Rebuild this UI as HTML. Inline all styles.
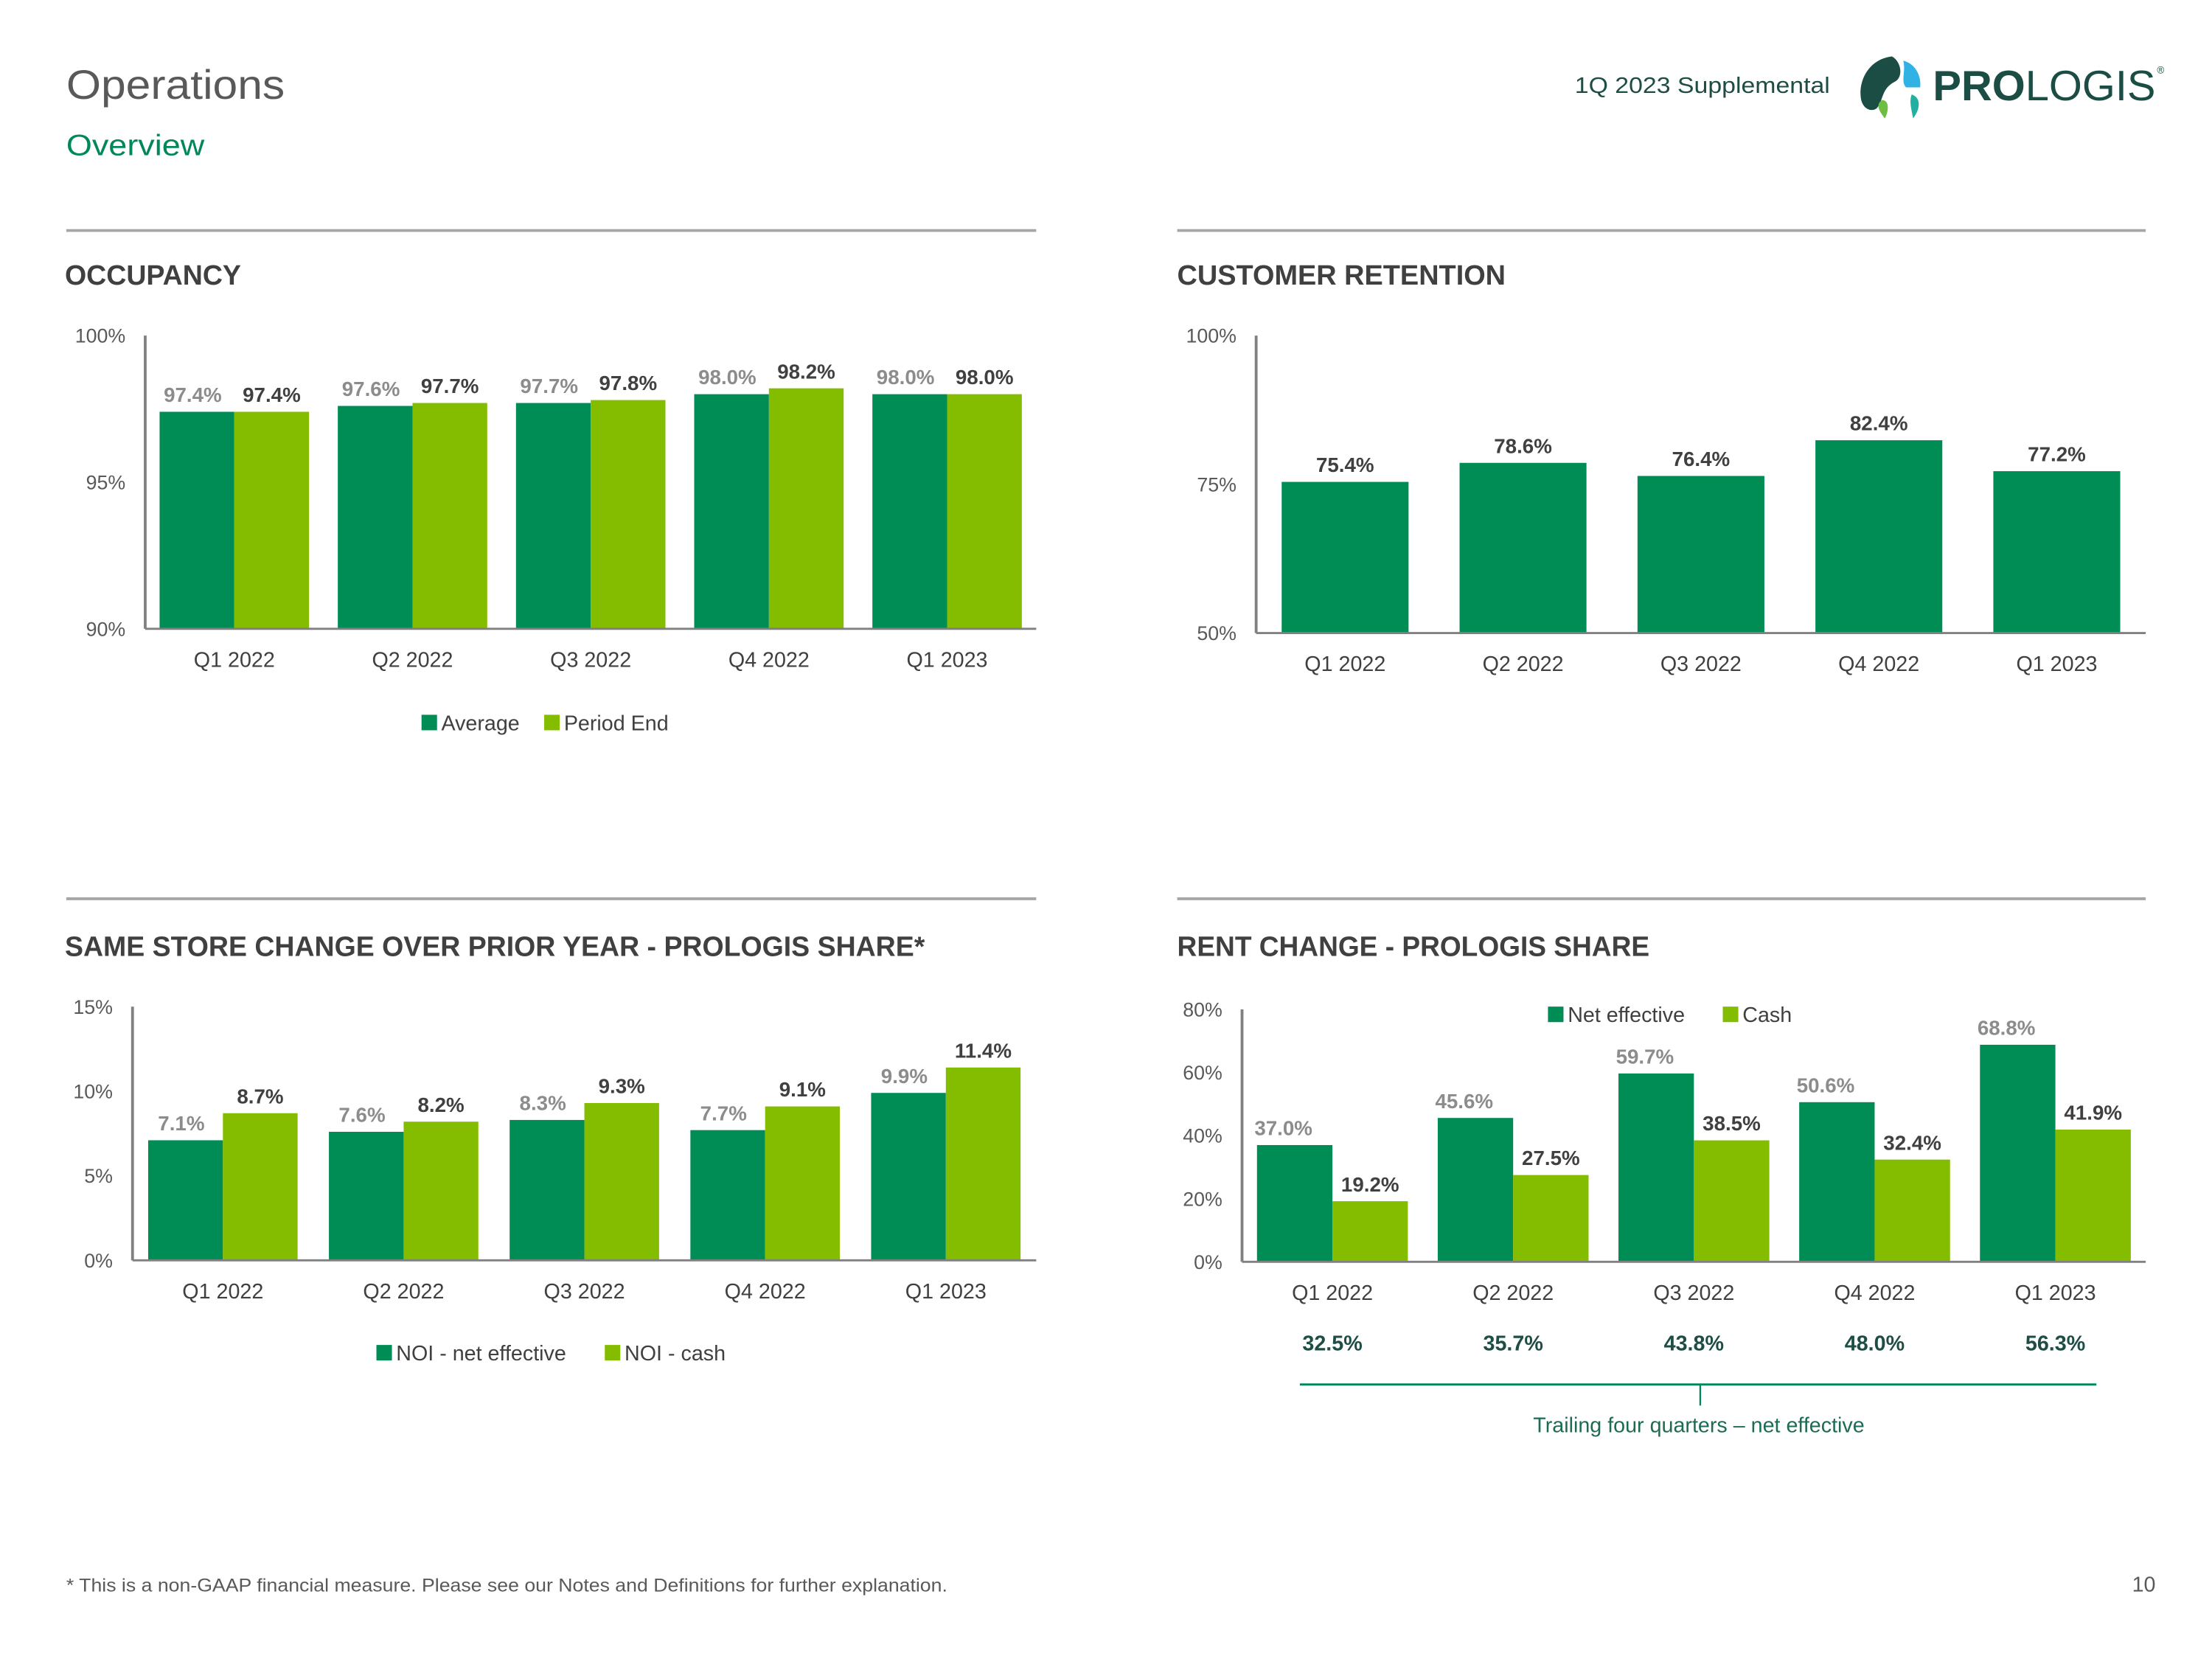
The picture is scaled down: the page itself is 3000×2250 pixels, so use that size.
<!DOCTYPE html>
<html><head><meta charset="utf-8"><style>
html,body{margin:0;padding:0;background:#fff;width:3000px;height:2250px;overflow:hidden}
svg{display:block;font-family:"Liberation Sans",sans-serif}
</style></head><body>
<svg id="page" width="3000" height="2250" viewBox="0 0 1569 1176.75" xmlns="http://www.w3.org/2000/svg">
<text x="47" y="70" font-size="29" fill="#595959" textLength="155" lengthAdjust="spacingAndGlyphs">Operations</text>
<text x="47" y="110" font-size="21" fill="#00875a" textLength="98" lengthAdjust="spacingAndGlyphs">Overview</text>
<text x="1117" y="66" font-size="16" fill="#1d4d44" textLength="181" lengthAdjust="spacingAndGlyphs">1Q 2023 Supplemental</text>
<g>
<path d="M1342 40 C1325 42 1318 58 1320 70 C1321 76 1326 80 1331 77 C1336 72 1334 63 1344 58 C1350 55 1349 44 1342 40Z" fill="#1b4d45"/>
<path d="M1350 43 C1358 45 1363 53 1362 62 L1352 62 C1348 58 1352 50 1350 43Z" fill="#30b2e5"/>
<path d="M1356 67 C1362 69 1363 76 1357 84 C1356 78 1354 72 1356 67Z" fill="#21b0a0"/>
<path d="M1335 71 C1340 71 1340 78 1337 84 C1333 79 1330 74 1335 71Z" fill="#6fbe44"/>
<text x="1371" y="71" font-size="30" font-weight="bold" fill="#1b4d45" textLength="158" lengthAdjust="spacingAndGlyphs"><tspan font-weight="bold">PRO</tspan><tspan font-weight="normal">LOGIS</tspan></text>
<text x="1530" y="52" font-size="7" fill="#1b4d45">®</text>
</g>
<g stroke="#a6a6a6" stroke-width="2">
<line x1="47" y1="163.5" x2="735" y2="163.5"/><line x1="835" y1="163.5" x2="1522" y2="163.5"/>
<line x1="47" y1="637.5" x2="735" y2="637.5"/><line x1="835" y1="637.5" x2="1522" y2="637.5"/>
</g>
<g font-weight="bold" font-size="20" fill="#404040">
<text x="46" y="202" textLength="125" lengthAdjust="spacingAndGlyphs">OCCUPANCY</text>
<text x="835" y="202" textLength="233" lengthAdjust="spacingAndGlyphs">CUSTOMER RETENTION</text>
<text x="46" y="678" textLength="610" lengthAdjust="spacingAndGlyphs">SAME STORE CHANGE OVER PRIOR YEAR - PROLOGIS SHARE*</text>
<text x="835" y="678" textLength="335" lengthAdjust="spacingAndGlyphs">RENT CHANGE - PROLOGIS SHARE</text>
</g>
<g id="charts"></g>
<text x="1205" y="1016" font-size="15" fill="#1d6b55" text-anchor="middle">Trailing four quarters – net effective</text>
<line x1="922" y1="982" x2="1487" y2="982" stroke="#00875a" stroke-width="1.5"/>
<line x1="1206" y1="982" x2="1206" y2="997" stroke="#00875a" stroke-width="1.2"/>
<text x="47" y="1129" font-size="13" fill="#595959" textLength="625" lengthAdjust="spacingAndGlyphs">* This is a non-GAAP financial measure. Please see our Notes and Definitions for further explanation.</text>
<text x="1529" y="1129" font-size="15" fill="#595959" text-anchor="end">10</text>
</svg>
<script>
const categories = ["Q1 2022","Q2 2022","Q3 2022","Q4 2022","Q1 2023"];
const occAverage = [97.4,97.6,97.7,98.0,98.0];
const occPeriodEnd = [97.4,97.7,97.8,98.2,98.0];
const occTicks = [90,95,100];
const retention = [75.4,78.6,76.4,82.4,77.2];
const retTicks = [50,75,100];
const ssNetEffective = [7.1,7.6,8.3,7.7,9.9];
const ssCash = [8.7,8.2,9.3,9.1,11.4];
const ssTicks = [0,5,10,15];
const rentNetEffective = [37.0,45.6,59.7,50.6,68.8];
const rentCash = [19.2,27.5,38.5,32.4,41.9];
const rentTicks = [0,20,40,60,80];
const trailing = [32.5,35.7,43.8,48.0,56.3];

const NS="http://www.w3.org/2000/svg";
const root=document.getElementById('charts');
const DARK="#008c55", LIGHT="#84bd00";
function mk(tag,attrs,parent,txt){const e=document.createElementNS(NS,tag);for(const k in attrs)e.setAttribute(k,attrs[k]);if(txt!==undefined)e.textContent=txt;(parent||root).appendChild(e);return e;}

function chart(o){
  const g=mk('g',{});
  
  
  const y=v=>o.y0-(v-o.vmin)/(o.vmax-o.vmin)*(o.y0-o.y1);
  const slot=(o.x1-o.x0)/categories.length;
  o.ticks.forEach(t=>{
    const tl=mk('text',{x:o.x0-14,y:y(t)+5,'font-size':14,fill:'#595959','text-anchor':'end'},g,t+'%');
    
    
  });
  categories.forEach((c,i)=>{
    const cx=o.x0+slot*(i+0.5);
    const n=o.series.length;
    o.series.forEach((s,j)=>{
      const bx=cx-o.bw*n/2+o.bw*j;
      const by=y(s.vals[i]);
      const r=mk('rect',{x:bx,y:by,width:o.bw,height:o.y0-by,fill:s.color},g);
      
      
      const lbl=mk('text',{x:bx+o.bw/2+(s.dx||0),y:by-7+(s.dy||0),'font-size':14.5,'font-weight':'bold',fill:s.lc,'text-anchor':'middle'},g,s.vals[i].toFixed(1)+'%');
      
      
    });
    const xl=mk('text',{x:cx,y:o.y0+o.xlOff,'font-size':15,fill:'#404040','text-anchor':'middle'},g,c);
    
    
  });
  mk('line',{x1:o.x0,y1:o.y1,x2:o.x0,y2:o.y0,stroke:'#808080','stroke-width':2},g);
  mk('line',{x1:o.x0,y1:o.y0,x2:o.x1,y2:o.y0,stroke:'#808080','stroke-width':1.5},g);
  return {g,y,slot};
}
function legend(items,x,yy){
  items.forEach(it=>{
    const r=mk('rect',{x:it.x,y:yy-11,width:11,height:11,fill:it.color});
    
    
    const t=mk('text',{x:it.x+14,y:yy,'font-size':15,fill:'#404040'},root,it.label);
    
    
  });
}
chart({name:'occupancy-chart',x0:103,x1:735,y0:446,y1:238,vmin:90,vmax:100,ticks:occTicks,bw:53,xlOff:27,
  series:[{key:'average',vals:occAverage,color:DARK,lc:'#8c8c8c',dx:-3},{key:'period-end',vals:occPeriodEnd,color:LIGHT,lc:'#404040',dx:0}]});
legend([{x:299,color:DARK,label:'Average'},{x:386,color:LIGHT,label:'Period End'}],0,518);
chart({name:'retention-chart',x0:891,x1:1522,y0:449,y1:238,vmin:50,vmax:100,ticks:retTicks,bw:90,xlOff:27,
  series:[{key:'retention',vals:retention,color:DARK,lc:'#404040'}]});
chart({name:'same-store-chart',x0:94,x1:735,y0:894,y1:714,vmin:0,vmax:15,ticks:ssTicks,bw:53,xlOff:27,
  series:[{key:'noi-net-effective',vals:ssNetEffective,color:DARK,lc:'#8c8c8c',dx:-3},{key:'noi-cash',vals:ssCash,color:LIGHT,lc:'#404040'}]});
legend([{x:267,color:DARK,label:'NOI - net effective'},{x:429,color:LIGHT,label:'NOI - cash'}],0,965);
const rc=chart({name:'rent-change-chart',x0:881,x1:1522,y0:895,y1:716,vmin:0,vmax:80,ticks:rentTicks,bw:53.5,xlOff:27,
  series:[{key:'net-effective',vals:rentNetEffective,color:DARK,lc:'#8c8c8c',dx:-8},{key:'cash',vals:rentCash,color:LIGHT,lc:'#404040'}]});
legend([{x:1098,color:DARK,label:'Net effective'},{x:1222,color:LIGHT,label:'Cash'}],0,725);
trailing.forEach((v,i)=>{
  const t=mk('text',{x:881+rc.slot*(i+0.5),y:958,'font-size':15,'font-weight':'bold',fill:'#1d4d44','text-anchor':'middle'},root,v.toFixed(1)+'%');
  
  
});
</script>
</body></html>
